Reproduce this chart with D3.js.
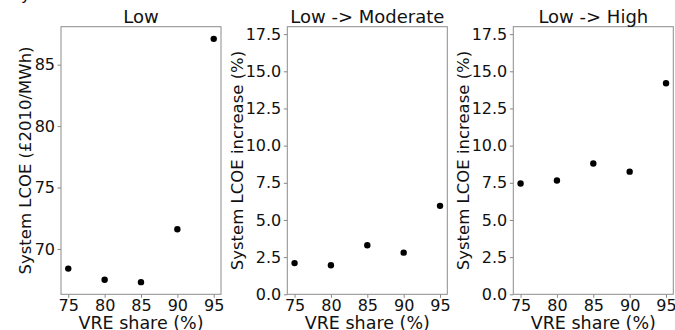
<!DOCTYPE html>
<html>
<head>
<meta charset="utf-8">
<script src="https://cdn.jsdelivr.net/npm/d3@7"></script>
<style>
  body { margin: 0; background: #fff; }
  text { font-family: "DejaVu Sans", sans-serif; fill: #111; }
</style>
</head>
<body>
<div id="chart"></div>
<script>
// VRE share on the x axis, same for every panel
var vreShare = [75, 80, 85, 90, 95];
var xTicks = [75, 80, 85, 90, 95];

// panel 1: system LCOE, low scenario
var lowLcoe = [68.4, 67.5, 67.3, 71.6, 87.1];
var lowTicks = [70, 75, 80, 85];

// panels 2 and 3: increase vs low (%)
var moderateIncrease = [2.1, 1.95, 3.3, 2.8, 5.95];
var highIncrease = [7.45, 7.65, 8.8, 8.25, 14.2];
var pctTicks = [0, 2.5, 5, 7.5, 10, 12.5, 15, 17.5];

var titles = ["Low", "Low -> Moderate", "Low -> High"];
var yLabels = ["System LCOE (\u00a32010/MWh)", "System LCOE increase (%)", "System LCOE increase (%)"];

var width = 675, height = 330;
var plotTop = 26.7, plotH = 267.6, plotW = 160;
var lefts = [61, 287.3, 513.3];
var yLabelX = [25, 236.7, 463.3];

var svg = d3.select('#chart').append('svg')
    .attr('width', width)
    .attr('height', height);

// stray descender of a cut off label at the very top
svg.append('text').attr('x', 21).attr('y', 0).style('font-size', '16px').text('y');

var panels = [
    { values: lowLcoe, domain: [66.31, 88.09], ticks: lowTicks, fmt: d3.format('d') },
    { values: moderateIncrease, domain: [0, 18], ticks: pctTicks, fmt: d3.format('.1f') },
    { values: highIncrease, domain: [0, 18], ticks: pctTicks, fmt: d3.format('.1f') }
];

panels.forEach(function(p, i) {
    var g = svg.append('g').attr('transform', 'translate(' + lefts[i] + ',' + plotTop + ')');

    var x = d3.scaleLinear().domain([74, 96]).range([0, plotW]);
    var y = d3.scaleLinear().domain(p.domain).range([plotH, 0]);

    var xAxis = g.append('g')
        .attr('transform', 'translate(0,' + plotH + ')')
        .call(d3.axisBottom(x).tickValues(xTicks).tickSize(3.5).tickPadding(1.5));
    var yAxis = g.append('g')
        .call(d3.axisLeft(y).tickValues(p.ticks).tickFormat(p.fmt).tickSize(3.5).tickPadding(2.5));

    [xAxis, yAxis].forEach(function(a) {
        a.select('.domain').remove();
        a.selectAll('line').attr('stroke', '#888');
        a.selectAll('text').style('font-size', '16px').style('font-family', '"DejaVu Sans", sans-serif').attr('fill', '#111');
    });

    // frame
    g.append('rect')
        .attr('width', plotW).attr('height', plotH)
        .attr('fill', 'none').attr('stroke', '#8c8c8c').attr('stroke-width', 1);

    g.selectAll('circle')
        .data(vreShare)
        .enter()
        .append('circle')
        .attr('cx', function(d) { return x(d); })
        .attr('cy', function(d, k) { return y(p.values[k]); })
        .attr('r', 3.2)
        .attr('fill', '#000');

    g.append('text')
        .attr('x', plotW / 2).attr('y', -4)
        .attr('text-anchor', 'middle')
        .style('font-size', '18px')
        .text(titles[i]);

    g.append('text')
        .attr('x', plotW / 2).attr('y', 302.8)
        .attr('text-anchor', 'middle')
        .style('font-size', '17.5px')
        .text('VRE share (%)');

    g.append('text')
        .attr('transform', 'translate(' + (yLabelX[i] - lefts[i] + 6) + ',' + (plotH / 2) + ') rotate(-90)')
        .attr('text-anchor', 'middle')
        .style('font-size', '16.5px')
        .text(yLabels[i]);
});
</script>
</body>
</html>
